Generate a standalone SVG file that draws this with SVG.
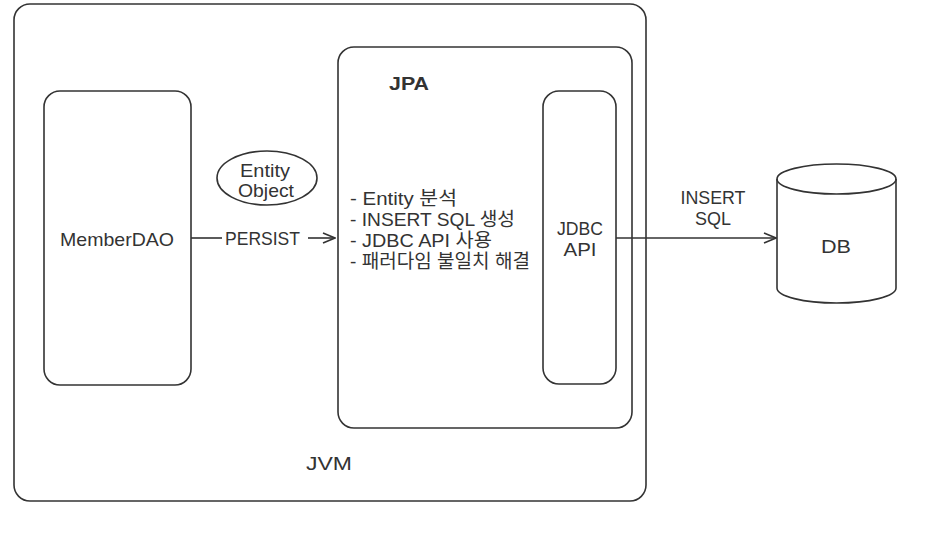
<svg xmlns="http://www.w3.org/2000/svg" width="934" height="536" viewBox="0 0 934 536">
<style>
.box{fill:#fff;stroke:#333;stroke-width:1.6}
.t{font-family:"Liberation Sans","Noto Sans CJK KR",sans-serif;font-size:19px;fill:#333}
.c{text-anchor:middle}
.ln{stroke:#333;stroke-width:1.6;fill:none}
</style>
<defs>
<marker id="ah" markerWidth="14" markerHeight="12" refX="13" refY="6" orient="auto" markerUnits="userSpaceOnUse">
<path d="M1,1 L13,6 L1,11" fill="none" stroke="#333" stroke-width="1.6"/>
</marker>
</defs>
<rect width="934" height="536" fill="#fff"/>
<g id="jvm">
<rect class="box" x="14" y="4" width="632" height="497" rx="16"/>
<text class="t" x="306" y="470" font-size="21" textLength="46" lengthAdjust="spacingAndGlyphs">JVM</text>
</g>
<g id="jpa">
<rect class="box" x="338" y="47" width="294" height="381" rx="16"/>
<text class="t" x="389" y="90" font-weight="bold" fill="#111" font-size="19" textLength="40" lengthAdjust="spacingAndGlyphs">JPA</text>
<text class="t" x="350" y="205" textLength="107" lengthAdjust="spacingAndGlyphs">- Entity 분석</text>
<text class="t" x="350" y="226" textLength="165" lengthAdjust="spacingAndGlyphs">- INSERT SQL 생성</text>
<text class="t" x="350" y="247" textLength="142" lengthAdjust="spacingAndGlyphs">- JDBC API 사용</text>
<text class="t" x="350" y="268" textLength="180" lengthAdjust="spacingAndGlyphs">- 패러다임 불일치 해결</text>
</g>
<g id="memberdao">
<rect class="box" x="44" y="91" width="147" height="294" rx="16"/>
<text class="t c" x="117" y="246" textLength="114" lengthAdjust="spacingAndGlyphs">MemberDAO</text>
</g>
<g id="jdbc">
<rect class="box" x="543" y="91" width="73" height="293" rx="16"/>
<text class="t c" x="580" y="235" textLength="46" lengthAdjust="spacingAndGlyphs">JDBC</text>
<text class="t c" x="580" y="256" textLength="33" lengthAdjust="spacingAndGlyphs">API</text>
</g>
<g id="entity">
<ellipse class="box" cx="267" cy="178" rx="50" ry="27"/>
<text class="t c" x="265" y="177" textLength="50" lengthAdjust="spacingAndGlyphs">Entity</text>
<text class="t c" x="266" y="197" textLength="56" lengthAdjust="spacingAndGlyphs">Object</text>
</g>
<g id="db">
<path class="box" d="M777,179 L777,288 A59.5,15 0 0 0 896,288 L896,179 A59.5,15 0 0 0 777,179 Z"/>
<path class="ln" d="M777,179 A59.5,15 0 0 0 896,179"/>
<text class="t c" x="836" y="253" font-size="23" textLength="30" lengthAdjust="spacingAndGlyphs">DB</text>
</g>
<g id="connectors">
<line class="ln" x1="191" y1="238" x2="222" y2="238"/>
<text class="t" x="225" y="245" textLength="75" lengthAdjust="spacingAndGlyphs">PERSIST</text>
<line class="ln" x1="308" y1="238" x2="335" y2="238" marker-end="url(#ah)"/>
<line class="ln" x1="616" y1="238" x2="776" y2="238" marker-end="url(#ah)"/>
<text class="t c" x="713" y="204" textLength="65" lengthAdjust="spacingAndGlyphs">INSERT</text>
<text class="t c" x="713" y="225" textLength="36" lengthAdjust="spacingAndGlyphs">SQL</text>
</g>
</svg>
